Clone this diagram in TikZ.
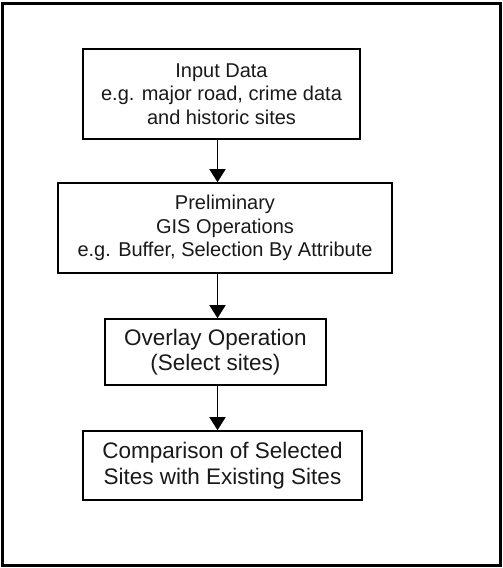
\documentclass[tikz,border=0pt]{standalone}
\usepackage{fontspec}
\setmainfont{Liberation Sans}
\usetikzlibrary{arrows.meta}

\tikzset{
  stagebox/.style={draw=black, line width=1.6pt, align=center, inner sep=0pt,
    font=\fontsize{20}{23.5}\selectfont, text=black!90},
  largetext/.style={font=\fontsize{22.5}{25.5}\selectfont},
  flowarrow/.style={line width=1.6pt, -{Triangle[width=16pt,length=13pt]}},
  frame/.style={draw=black, line width=3pt}
}

\begin{document}
\begin{tikzpicture}[x=1pt,y=-1pt]
  \useasboundingbox (0,0) rectangle (503,568);
  \draw[frame] (2.5,3.5) rectangle (500.5,565.5);

  % process stages, top to bottom
  \node[stagebox, minimum width=277pt, minimum height=90pt] (input) at (221.5,94)
    {Input Data\\e.g. major road, crime data\\and historic sites};
  \node[stagebox, minimum width=334pt, minimum height=90pt] (prelim) at (225,228)
    {Preliminary\\GIS Operations\\e.g. Buffer, Selection By Attribute};
  \node[stagebox, largetext, minimum width=221pt, minimum height=66pt] (overlay) at (215.5,352)
    {Overlay Operation\\(Select sites)};
  \node[stagebox, largetext, minimum width=279pt, minimum height=69pt] (compare) at (222.5,465.5)
    {Comparison of Selected\\Sites with Existing Sites};

  % common axis of the connecting arrows
  \coordinate (axis) at (217.5,0);
  \draw[flowarrow] (input.south -| axis) -- (prelim.north -| axis);
  \draw[flowarrow] (prelim.south -| axis) -- (overlay.north -| axis);
  \draw[flowarrow] (overlay.south -| axis) -- (compare.north -| axis);
\end{tikzpicture}
\end{document}
